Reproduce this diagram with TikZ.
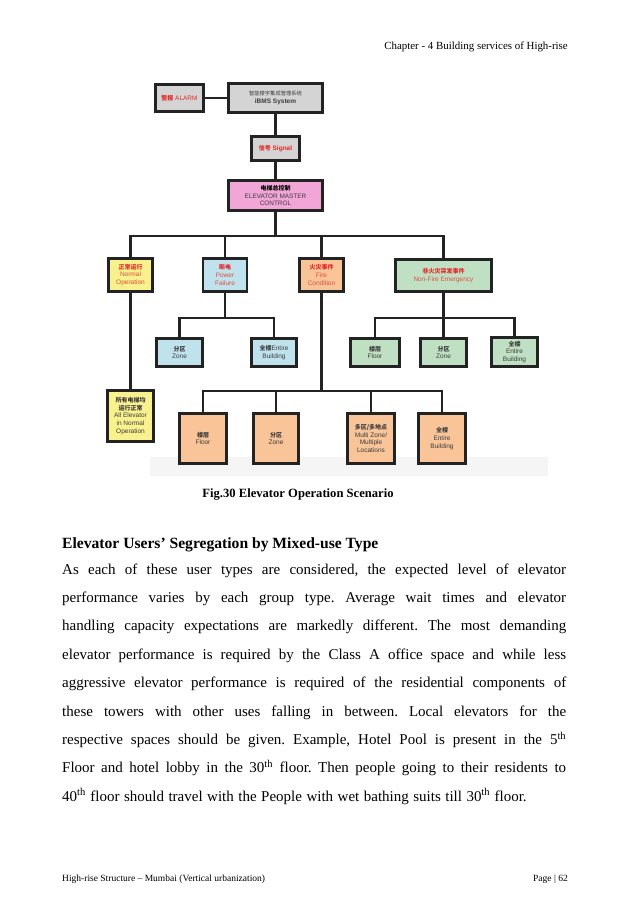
\documentclass[tikz,border=0pt]{standalone}
\usepackage{fontspec}
\setmainfont{Liberation Serif}
\newfontfamily\dsans{Liberation Sans}
\newfontfamily\cjk{Noto Sans CJK SC}
\frenchspacing
\definecolor{bordc}{RGB}{35,35,35}
\definecolor{greyf}{RGB}{212,212,212}
\definecolor{pinkf}{RGB}{242,165,215}
\definecolor{yellowf}{RGB}{249,240,142}
\definecolor{bluef}{RGB}{192,226,236}
\definecolor{salmonf}{RGB}{248,196,152}
\definecolor{greenf}{RGB}{192,224,196}
\definecolor{redt}{RGB}{228,40,40}
\definecolor{redl}{RGB}{222,80,60}
\definecolor{darkt}{RGB}{60,60,60}
\newcommand{\zh}[1]{{\cjk\bfseries\fontsize{6}{7}\selectfont #1}}
\tikzset{
  box/.style={draw=bordc, line width=2.6pt, inner sep=0pt, align=center,
    font=\dsans\fontsize{6.5}{7.6}\selectfont, text=darkt},
  link/.style={draw=bordc, line width=2.6pt},
  bodyline/.style={anchor=base west, inner sep=0pt, font=\fontsize{15}{18}\selectfont}
}
\begin{document}
\begin{tikzpicture}[x=1pt,y=-1pt]
\useasboundingbox[fill=white] (0,0) rectangle (638,903);
% header
\node[anchor=base east, inner sep=0pt, font=\fontsize{10.9}{13}\selectfont] (hdr) at (568,49) {Chapter - 4 Building services of High-rise};
% faint background strip of the figure
\fill[gray!8] (150,457) rectangle (548,476);
% level 0
\node[box, fill=greyf, minimum width=48.5pt, minimum height=27.5pt] (alarm) at (179.5,98)
  {\textcolor{redt}{\zh{警报} ALARM}};
\node[box, fill=greyf, minimum width=94.5pt, minimum height=29.5pt] (ibms) at (275.5,98)
  {{\cjk\fontsize{5.3}{6.3}\selectfont 智能楼宇集成管理系统}\\[1pt]\textbf{iBMS System}};
\node[box, fill=greyf, minimum width=47.5pt, minimum height=24.5pt] (signal) at (275.5,148.5)
  {\textcolor{redt}{\zh{信号} \textbf{Signal}}};
\node[box, fill=pinkf, minimum width=94.5pt, minimum height=30.5pt, font=\dsans\fontsize{6.4}{7.6}\selectfont] (master) at (275.5,195.5)
  {\textcolor{black}{\zh{电梯总控制}}\\ELEVATOR MASTER\\CONTROL};
% level 1
\node[box, fill=yellowf, minimum width=44.5pt, minimum height=33.5pt, text=redl] (normal) at (130.5,275)
  {\textcolor{redt}{\zh{正常运行}}\\Normal\\Operation};
\node[box, fill=bluef, minimum width=44pt, minimum height=33.5pt, text=redl] (power) at (225,275)
  {\textcolor{redt}{\zh{断电}}\\Power\\Failure};
\node[box, fill=salmonf, minimum width=44.5pt, minimum height=33.5pt, text=redl] (fire) at (321.5,275)
  {\textcolor{redt}{\zh{火灾事件}}\\Fire\\Condition};
\node[box, fill=greenf, minimum width=96.5pt, minimum height=32.5pt, text=redl] (nonfire) at (443.5,275.5)
  {\textcolor{redt}{\zh{非火灾突发事件}}\\Non-Fire Emergency};
% level 2: power failure
\node[box, fill=bluef, minimum width=46.5pt, minimum height=28.5pt] (zoneA) at (179.5,352.5)
  {\zh{分区}\\Zone};
\node[box, fill=bluef, minimum width=45.5pt, minimum height=28.5pt] (entireA) at (274,352.5)
  {\zh{全楼}Entire\\Building};
% level 2: non-fire
\node[box, fill=greenf, minimum width=49pt, minimum height=28.5pt] (floorB) at (375,352.5)
  {\zh{楼层}\\Floor};
\node[box, fill=greenf, minimum width=46.5pt, minimum height=28.5pt] (zoneB) at (443.5,352.5)
  {\zh{分区}\\Zone};
\node[box, fill=greenf, minimum width=46.5pt, minimum height=28.5pt] (entireB) at (514.5,352)
  {\zh{全楼}\\Entire\\Building};
% level 2: normal
\node[box, fill=yellowf, minimum width=46.5pt, minimum height=51.5pt] (allelev) at (130.5,416)
  {\zh{所有电梯均}\\\zh{运行正常}\\All Elevator\\in Normal\\Operation};
% level 2: fire
\node[box, fill=salmonf, minimum width=47.5pt, minimum height=50.5pt] (floorC) at (203,438.5)
  {\zh{楼层}\\Floor};
\node[box, fill=salmonf, minimum width=45.5pt, minimum height=50.5pt] (zoneC) at (276,438.5)
  {\zh{分区}\\Zone};
\node[box, fill=salmonf, minimum width=47.5pt, minimum height=50.5pt] (multiC) at (371,438.5)
  {\zh{多区/多地点}\\Multi Zone/\\Multiple\\Locations};
\node[box, fill=salmonf, minimum width=47.5pt, minimum height=50.5pt] (entireC) at (442,438.5)
  {\zh{全楼}\\Entire\\Building};
% bus coordinates
\coordinate (bus1) at (275.5,236);
\coordinate (bus2) at (225,318);
\coordinate (bus3) at (443.5,318);
\coordinate (bus4) at (321.5,391);
% connectors
\draw[link] (alarm) -- (ibms);
\draw[link] (ibms) -- (signal);
\draw[link] (signal) -- (master);
\draw[link] (master) -- (bus1);
\draw[link] (normal.north) |- (bus1) -| (nonfire.north);
\draw[link] (power.north) -- (power.north |- bus1);
\draw[link] (fire.north) -- (fire.north |- bus1);
\draw[link] (normal.south) -- (normal.south |- allelev.north);
\draw[link] (power.south) -- (bus2);
\draw[link] (zoneA.north) |- (bus2) -| (entireA.north);
\draw[link] (nonfire.south) -- (bus3);
\draw[link] (floorB.north) |- (bus3) -| (entireB.north);
\draw[link] (bus3) -- (zoneB.north);
\draw[link] (fire.south) -- (bus4);
\draw[link] (floorC.north) |- (bus4) -| (entireC.north);
\draw[link] (zoneC.north) -- (zoneC.north |- bus4);
\draw[link] (multiC.north) -- (multiC.north |- bus4);
% caption
\node[anchor=base, inner sep=0pt, font=\bfseries\fontsize{12.6}{15}\selectfont] (cap) at (298,497) {Fig.30 Elevator Operation Scenario};
% heading
\node[anchor=base west, inner sep=0pt, font=\bfseries\fontsize{15.6}{18}\selectfont] (head) at (62,548) {Elevator Users’ Segregation by Mixed-use Type};
% paragraph
\node[bodyline] (l1) at (62,574) {\makebox[504pt][s]{As each of these user types are considered, the expected level of elevator}};
\node[bodyline] (l2) at (62,602.4) {\makebox[504pt][s]{performance varies by each group type. Average wait times and elevator}};
\node[bodyline] (l3) at (62,630.8) {\makebox[504pt][s]{handling capacity expectations are markedly different. The most demanding}};
\node[bodyline] (l4) at (62,659.2) {\makebox[504pt][s]{elevator performance is required by the Class A office space and while less}};
\node[bodyline] (l5) at (62,687.6) {\makebox[504pt][s]{aggressive elevator performance is required of the residential components of}};
\node[bodyline] (l6) at (62,716) {\makebox[504pt][s]{these towers with other uses falling in between. Local elevators for the}};
\node[bodyline] (l7) at (62,744.4) {\makebox[504pt][s]{respective spaces should be given. Example, Hotel Pool is present in the 5\textsuperscript{th}}};
\node[bodyline] (l8) at (62,772.8) {\makebox[504pt][s]{Floor and hotel lobby in the 30\textsuperscript{th} floor. Then people going to their residents to}};
\node[bodyline] (l9) at (62,801.2) {\spaceskip=0.3em 40\textsuperscript{th} floor should travel with the People with wet bathing suits till 30\textsuperscript{th} floor.};
% footer
\node[anchor=base west, inner sep=0pt, font=\fontsize{9.5}{11}\selectfont] (ftl) at (62,881) {High-rise Structure – Mumbai (Vertical urbanization)};
\node[anchor=base east, inner sep=0pt, font=\fontsize{9.5}{11}\selectfont] (ftr) at (568,881) {Page | 62};
\end{tikzpicture}
\end{document}
